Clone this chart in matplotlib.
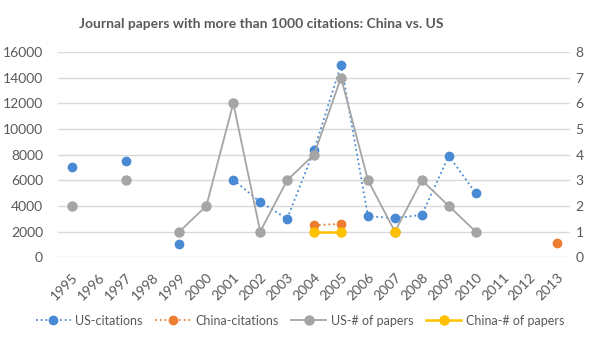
import matplotlib
matplotlib.use("Agg")
import matplotlib.pyplot as plt
import matplotlib.transforms as mtransforms
import numpy as np

nan = np.nan

years = [str(y) for y in range(1995, 2014)]
us_citations = [7000, nan, 7500, nan, 1000, nan, 6050, 4300, 3000, 8350, 15000,
                3200, 3050, 3300, 7900, 5000, nan, nan, nan]
china_citations = [nan, nan, nan, nan, nan, nan, nan, nan, nan, 2500, 2600,
                   nan, nan, nan, nan, nan, nan, nan, 1100]
us_papers = [2, nan, 3, nan, 1, 2, 6, 1, 3, 4, 7, 3, 1, 3, 2, 1, nan, nan, nan]
china_papers = [nan, nan, nan, nan, nan, nan, nan, nan, nan, 1, 1, nan, 1,
                nan, nan, nan, nan, nan, nan]

plt.rcParams["font.family"] = ["Lato", "DejaVu Sans"]
text_color = "#595959"

fig = plt.figure(figsize=(6.0, 3.41), dpi=100)
ax = fig.add_axes([0.097, 0.2455, 0.853, 0.6025])
ax2 = ax.twinx()

x = np.arange(len(years))

l1, = ax.plot(x, us_citations, linestyle=":", color="#4A8AD4", linewidth=1.3,
              marker="o", markersize=6, label="US-citations")
l2, = ax.plot(x, china_citations, linestyle=":", color="#ED7D31", linewidth=1.3,
              marker="o", markersize=6, label="China-citations")
l3, = ax2.plot(x, us_papers, linestyle="-", color="#A5A5A5", linewidth=1.3,
               marker="o", markersize=6.5, label="US-# of papers")
l4, = ax2.plot(x, china_papers, linestyle="-", color="#FFC000", linewidth=1.8,
               marker="o", markersize=6.5, label="China-# of papers")

ax.set_xlim(-0.5, len(years) - 0.5)
ax.set_ylim(0, 16000)
ax.set_yticks(range(0, 16001, 2000))
ax2.set_ylim(0, 8)
ax2.set_yticks(range(0, 9))

ax.set_xticks(x)
ax.set_xticklabels(years, rotation=45, ha="right", rotation_mode="anchor")
shift = mtransforms.ScaledTranslation(-9 / 100, 0, fig.dpi_scale_trans)
for lbl in ax.get_xticklabels():
    lbl.set_transform(lbl.get_transform() + shift)

ax.grid(axis="y", color="#D9D9D9", linewidth=1)
ax.set_axisbelow(True)
for a in (ax, ax2):
    for s in a.spines.values():
        s.set_visible(False)
    a.tick_params(length=0, colors=text_color, labelsize=10)
ax.tick_params(axis="y", pad=11)
ax.tick_params(axis="x", pad=10)
ax2.tick_params(axis="y", pad=4)

fig.text(0.435, 0.93, "Journal papers with more than 1000 citations: China vs. US",
         ha="center", va="center", fontsize=10, fontweight="bold", color=text_color)

fig.legend(handles=[l1, l2, l3, l4], loc="center", ncol=4,
           bbox_to_anchor=(0.5, 0.06), frameon=False, fontsize=9,
           labelcolor=text_color, handlelength=2.8, columnspacing=1.0,
           handletextpad=0.4)

fig.savefig("out.png", dpi=100)
